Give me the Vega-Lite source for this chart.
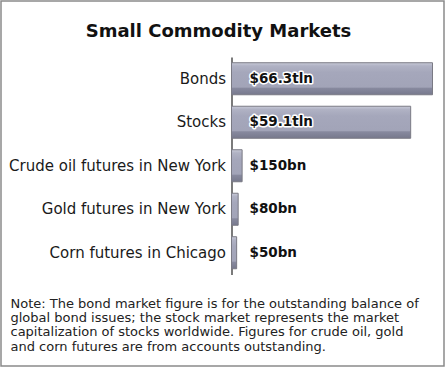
{
  "$schema": "https://vega.github.io/schema/vega-lite/v6.json",
  "width": 443,
  "height": 365,
  "autosize": {"type": "none"},
  "padding": {"left": 1, "top": 1, "right": 4, "bottom": 6},
  "background": "white",
  "config": {
    "view": {"stroke": "#8a8a8a", "strokeWidth": 1.5},
    "font": "DejaVu Sans"
  },
  "title": {
    "text": "Small Commodity Markets",
    "font": "DejaVu Sans",
    "fontSize": 18,
    "fontWeight": "bold",
    "color": "#111111",
    "anchor": "middle",
    "dx": -4,
    "offset": -40
  },
  "data": {
    "values": [
      {"market": "Bonds", "amount": 66.3, "label": "$66.3tln"},
      {"market": "Stocks", "amount": 59.1, "label": "$59.1tln"},
      {"market": "Crude oil futures in New York", "amount": 3.5, "label": "$150bn"},
      {"market": "Gold futures in New York", "amount": 2.2, "label": "$80bn"},
      {"market": "Corn futures in Chicago", "amount": 1.7, "label": "$50bn"}
    ]
  },
  "encoding": {
    "y": {
      "field": "market",
      "type": "nominal",
      "sort": null,
      "scale": {"range": [56, 273.5], "paddingInner": 0.264, "paddingOuter": 0.132},
      "axis": {
        "orient": "left",
        "offset": -230.5,
        "title": null,
        "ticks": false,
        "domainColor": "#222222",
        "domainWidth": 1.2,
        "labelFont": "DejaVu Sans",
        "labelFontSize": 15,
        "labelColor": "#1a1a1a",
        "labelPadding": 6,
        "labelLimit": 300
      }
    }
  },
  "layer": [
    {
      "mark": {
        "type": "bar",
        "stroke": "#7a7a84",
        "strokeWidth": 1,
        "color": {
          "gradient": "linear",
          "x1": 0, "y1": 0, "x2": 0, "y2": 1,
          "stops": [
            {"offset": 0, "color": "#c8cad8"},
            {"offset": 0.1, "color": "#b0b2c4"},
            {"offset": 0.3, "color": "#a5a7bb"},
            {"offset": 0.76, "color": "#a2a4b8"},
            {"offset": 0.8, "color": "#87899e"},
            {"offset": 1, "color": "#77798d"}
          ]
        }
      },
      "encoding": {
        "x": {
          "field": "amount",
          "type": "quantitative",
          "scale": {"domain": [0, 66.3], "range": [230.5, 431.5], "nice": false},
          "axis": {
            "orient": "bottom",
            "domain": false,
            "ticks": false,
            "labels": false,
            "grid": false,
            "title": [
              "Note: The bond market figure is for the outstanding balance of",
              "global bond issues; the stock market represents the market",
              "capitalization of stocks worldwide.  Figures for crude oil, gold",
              "and corn futures are from accounts outstanding."
            ],
            "titleFont": "DejaVu Sans",
            "titleFontSize": 13,
            "titleFontWeight": "normal",
            "titleColor": "#222222",
            "titleAlign": "left",
            "titleAnchor": "start",
            "titleBaseline": "alphabetic",
            "titleX": 9,
            "titleY": -59,
            "titleLineHeight": 14.4
          }
        }
      }
    },
    {
      "mark": {
        "type": "text",
        "align": "left",
        "baseline": "middle",
        "dx": 18,
        "font": "DejaVu Sans",
        "fontSize": 13.5,
        "fontWeight": "bold",
        "stroke": "white",
        "strokeWidth": 3,
        "strokeJoin": "round",
        "fill": "white"
      },
      "encoding": {
        "x": {"datum": 0, "type": "quantitative"},
        "text": {"field": "label"}
      }
    },
    {
      "mark": {
        "type": "text",
        "align": "left",
        "baseline": "middle",
        "dx": 18,
        "font": "DejaVu Sans",
        "fontSize": 13.5,
        "fontWeight": "bold",
        "fill": "#111111"
      },
      "encoding": {
        "x": {"datum": 0, "type": "quantitative"},
        "text": {"field": "label"}
      }
    }
  ]
}
